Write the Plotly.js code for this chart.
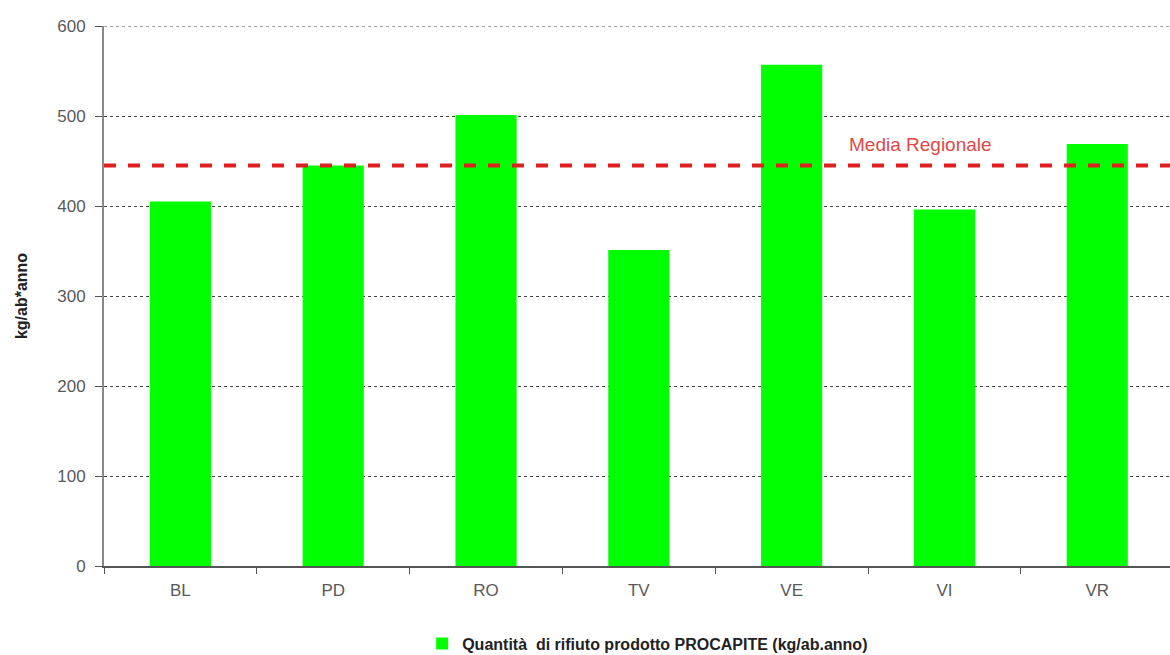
<!DOCTYPE html>
<html>
<head>
<meta charset="utf-8">
<script src="https://cdn.plot.ly/plotly-3.0.1.min.js"></script>
<style>html,body{margin:0;padding:0;background:#fff;overflow:hidden}#chart{width:1170px;height:655px}</style>
</head>
<body>
<div id="chart"></div>
<script>
const categories = ["BL", "PD", "RO", "TV", "VE", "VI", "VR"];
const procapite = [405, 445, 501, 351, 557, 396, 469];
const mediaRegionale = [445];
const yTicks = [0, 100, 200, 300, 400, 500, 600];
const seriesName = "Quantità  di rifiuto prodotto PROCAPITE (kg/ab.anno)";
const mediaLabel = "Media Regionale";

const traces = [{
  type: "bar",
  x: categories,
  y: procapite,
  name: seriesName,
  marker: {color: "#00ff00"},
  width: 0.4,
  showlegend: true
}];

const yMax = yTicks[yTicks.length - 1];

const layout = {
  width: 1170, height: 655,
  margin: {l: 104, r: 0, t: 26, b: 89, autoexpand: false},
  paper_bgcolor: "#ffffff",
  plot_bgcolor: "#ffffff",
  font: {family: "Liberation Sans, Arial, sans-serif", size: 16, color: "#595959"},
  xaxis: {
    type: "category",
    range: [-0.5, 6.476],
    showline: true, linecolor: "#555", linewidth: 2,
    ticks: "outside", tickson: "boundaries", ticklen: 6, tickcolor: "#555",
    showgrid: false,
    ticklabelstandoff: 8,
    tickfont: {size: 17, color: "#595959"},
    fixedrange: true
  },
  yaxis: {
    range: [0, yMax],
    tickvals: yTicks,
    showline: true, linecolor: "#888", linewidth: 2,
    ticks: "outside", ticklen: 7, tickcolor: "#555",
    showgrid: true, gridcolor: "#444", griddash: "dot", gridwidth: 1,
    zeroline: false,
    ticklabelstandoff: 6,
    tickfont: {size: 17, color: "#595959"},
    title: {text: "kg/ab*anno", font: {size: 16, color: "#222", family: "Liberation Sans, Arial, sans-serif", weight: "bold"}, standoff: 26},
    fixedrange: true
  },
  shapes: [{
    type: "line", xref: "paper", yref: "y",
    x0: 0, x1: 1, y0: yMax, y1: yMax,
    line: {color: "#444", width: 1, dash: "dot"},
    layer: "below"
  }, {
    type: "line", xref: "paper", yref: "y",
    x0: 0, x1: 1, y0: mediaRegionale[0], y1: mediaRegionale[0],
    line: {color: "#e02020", width: 4, dash: "dash"},
    layer: "above"
  }],
  annotations: [{
    xref: "paper", yref: "y", x: (847 - 104) / 1066, y: mediaRegionale[0],
    xanchor: "left", yanchor: "bottom", yshift: 9,
    text: mediaLabel, showarrow: false,
    font: {size: 19, color: "#e04848", family: "Liberation Sans, Arial, sans-serif"}
  }],
  legend: {
    orientation: "h", x: 0.51, xanchor: "center", y: -0.112, yanchor: "top",
    font: {size: 16, color: "#222", weight: "bold"},
    itemwidth: 30
  },
  bargap: 0.6
};

Plotly.newPlot("chart", traces, layout, {displayModeBar: false, staticPlot: true});
</script>
</body>
</html>
